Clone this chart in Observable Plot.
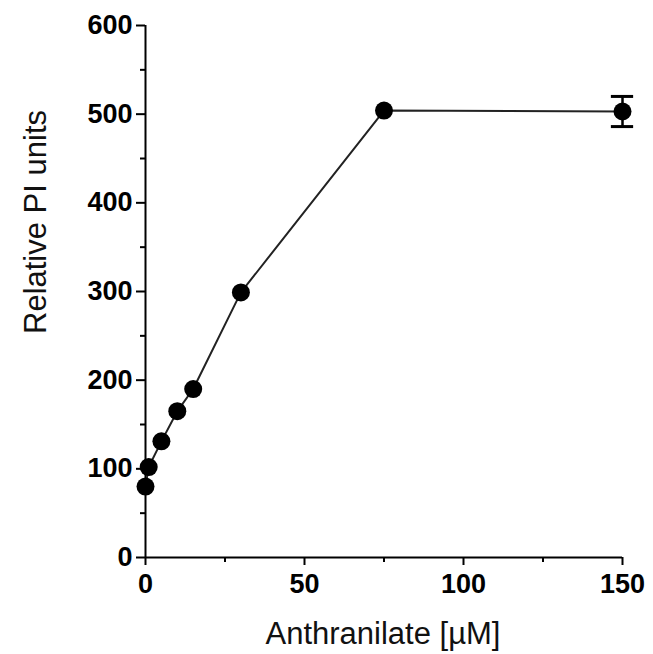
<!DOCTYPE html>
<html>
<head>
<meta charset="utf-8">
<script src="https://cdn.jsdelivr.net/npm/d3@7"></script>
<script src="https://cdn.jsdelivr.net/npm/@observablehq/plot@0.6"></script>
<style>
  html, body { margin: 0; padding: 0; background: #fff; }
</style>
</head>
<body>
<div id="chart"></div>
<script>
// Data
const concentration = [0, 1, 5, 10, 15, 30, 75, 150];          // Anthranilate [µM]
const piUnits       = [80, 102, 131, 165, 190, 299, 504, 503];  // Relative PI units
const piError       = [0, 0, 0, 0, 0, 0, 0, 17];
const xMajorTicks = [0, 50, 100, 150];
const xMinorTicks = [25, 75, 125];
const yMajorTicks = [0, 100, 200, 300, 400, 500, 600];
const yMinorTicks = [50, 150, 250, 350, 450, 550];
const xTitle = "Anthranilate [\u00b5M]";
const yTitle = "Relative PI units";

const data = concentration.map((c, i) => ({x: c, y: piUnits[i], e: piError[i]}));
const errData = data.filter(d => d.e > 0);
const capHalf = 3.5; // half width of error-bar caps, in x units

const FONT = "Liberation Sans, Arial, Helvetica, sans-serif";
const tickFont = {fontSize: 27, fontWeight: "bold", fontFamily: FONT};

const chart = Plot.plot({
  width: 653,
  height: 654,
  marginLeft: 145,
  marginRight: 31,
  marginTop: 25,
  marginBottom: 97,
  style: {fontFamily: FONT, color: "#000", background: "#fff"},
  x: {type: "linear", domain: [0, 150]},
  y: {type: "linear", domain: [0, 600]},
  marks: [
    Plot.axisX(xMajorTicks, {tickSize: 8, tickPadding: 8, strokeWidth: 2, label: null, ...tickFont}),
    Plot.axisX(xMinorTicks, {tickSize: 5, strokeWidth: 2, tickFormat: () => "", label: null}),
    Plot.axisY(yMajorTicks, {tickSize: 9, tickPadding: 4, strokeWidth: 2, label: null, ...tickFont}),
    Plot.axisY(yMinorTicks, {tickSize: 5, strokeWidth: 2, tickFormat: () => "", label: null}),
    Plot.ruleY([0], {stroke: "#000", strokeWidth: 2}),
    Plot.ruleX([0], {stroke: "#000", strokeWidth: 2}),
    Plot.line(data, {x: "x", y: "y", stroke: "#222", strokeWidth: 2}),
    Plot.ruleX(errData, {x: "x", y1: d => d.y - d.e, y2: d => d.y + d.e, stroke: "#000", strokeWidth: 2.5}),
    Plot.ruleY(errData, {y: d => d.y - d.e, x1: d => d.x - capHalf, x2: d => d.x + capHalf, stroke: "#000", strokeWidth: 3}),
    Plot.ruleY(errData, {y: d => d.y + d.e, x1: d => d.x - capHalf, x2: d => d.x + capHalf, stroke: "#000", strokeWidth: 3}),
    Plot.dot(data, {x: "x", y: "y", r: 9, fill: "#000", stroke: "none"})
  ]
});

const svg = d3.select(chart);
svg.append("text")
  .attr("x", 383).attr("y", 644)
  .attr("text-anchor", "middle")
  .attr("font-family", FONT).attr("font-size", 31).attr("fill", "#111")
  .text(xTitle);
svg.append("text")
  .attr("transform", "translate(46,222) rotate(-90)")
  .attr("text-anchor", "middle")
  .attr("font-family", FONT).attr("font-size", 31).attr("fill", "#111")
  .text(yTitle);

document.getElementById("chart").appendChild(chart);
</script>
</body>
</html>
